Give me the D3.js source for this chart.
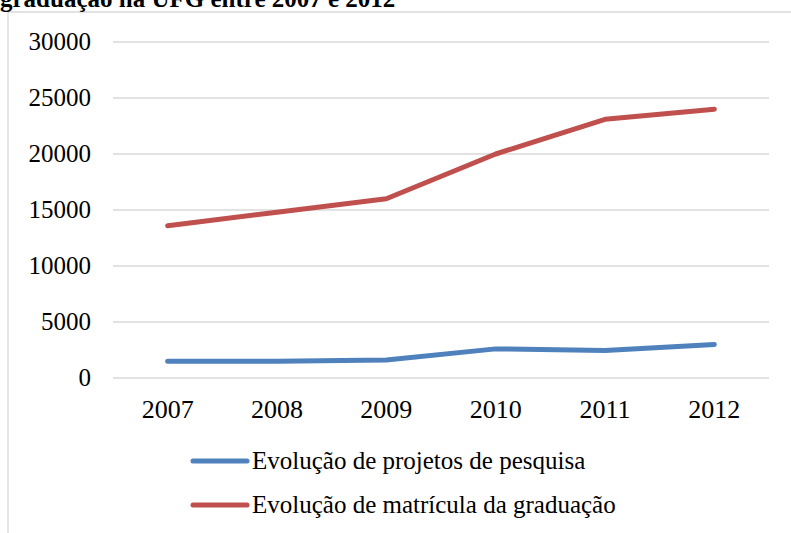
<!DOCTYPE html>
<html>
<head>
<meta charset="utf-8">
<script src="https://cdn.jsdelivr.net/npm/d3@7"></script>
<style>
html,body{margin:0;padding:0;background:#fff;}
svg{display:block;}
</style>
</head>
<body>
<svg id="chart" width="791" height="533"></svg>
<script>
const titleText = "graduação na UFG entre 2007 e 2012";
const categories = ["2007", "2008", "2009", "2010", "2011", "2012"];
const seriesNames = ["Evolução de projetos de pesquisa", "Evolução de matrícula da graduação"];
const projetos = [1500, 1500, 1600, 2600, 2450, 3000];
const matriculas = [13600, 14800, 16000, 20000, 23100, 24000];
const yTicks = [0, 5000, 10000, 15000, 20000, 25000, 30000];
const colors = ["#4F81BD", "#C0504D"];

const svg = d3.select("#chart");
const font = "'Liberation Serif', 'Times New Roman', serif";

// frame
svg.append("line").attr("x1", 8).attr("x2", 8).attr("y1", 12).attr("y2", 533)
  .attr("stroke", "#D9D9D9").attr("stroke-width", 1.3);
svg.append("line").attr("x1", 8).attr("x2", 791).attr("y1", 12).attr("y2", 12)
  .attr("stroke", "#D9D9D9").attr("stroke-width", 1.3);

// title (clipped at top)
svg.append("text").attr("x", 0).attr("y", 7)
  .attr("font-family", font).attr("font-weight", "bold").attr("font-size", 25)
  .attr("fill", "#000").text(titleText);

const x = d3.scaleBand().domain(categories).range([113, 769]).padding(0);
const y = d3.scaleLinear().domain([0, 30000]).range([378, 42]);

// gridlines
svg.append("g").selectAll("line").data(yTicks).join("line")
  .attr("x1", 113).attr("x2", 769)
  .attr("y1", d => y(d)).attr("y2", d => y(d))
  .attr("stroke", "#D9D9D9").attr("stroke-width", 1.3);

// y axis labels
const yAxis = d3.axisLeft(y).tickValues(yTicks).tickSize(0).tickPadding(0).tickFormat(d3.format("d"));
const gy = svg.append("g").attr("transform", "translate(91,0)").call(yAxis);
gy.select(".domain").remove();
gy.selectAll("text").attr("font-family", font).attr("font-size", 25).attr("fill", "#000")
  .attr("dy", "0.3em");

// x axis labels
const xAxis = d3.axisBottom(x).tickSize(0).tickPadding(0);
const gx = svg.append("g").attr("transform", "translate(0,418)").call(xAxis);
gx.select(".domain").remove();
gx.selectAll("text").attr("font-family", font).attr("font-size", 26).attr("fill", "#000")
  .attr("dy", 0);

// lines
const line = d3.line().x((d, i) => x(categories[i]) + x.bandwidth() / 2).y(d => y(d));
[projetos, matriculas].forEach((s, k) => {
  svg.append("path").datum(s).attr("d", line)
    .attr("fill", "none").attr("stroke", colors[k]).attr("stroke-width", 5)
    .attr("stroke-linecap", "round").attr("stroke-linejoin", "round");
});

// legend
const leg = svg.append("g");
seriesNames.forEach((n, k) => {
  const ly = 461 + k * 44;
  leg.append("line").attr("x1", 193).attr("x2", 247).attr("y1", ly).attr("y2", ly)
    .attr("stroke", colors[k]).attr("stroke-width", 5).attr("stroke-linecap", "round");
  leg.append("text").attr("x", 252).attr("y", ly + 8)
    .attr("font-family", font).attr("font-size", 25).attr("fill", "#000").text(n);
});
</script>
</body>
</html>
